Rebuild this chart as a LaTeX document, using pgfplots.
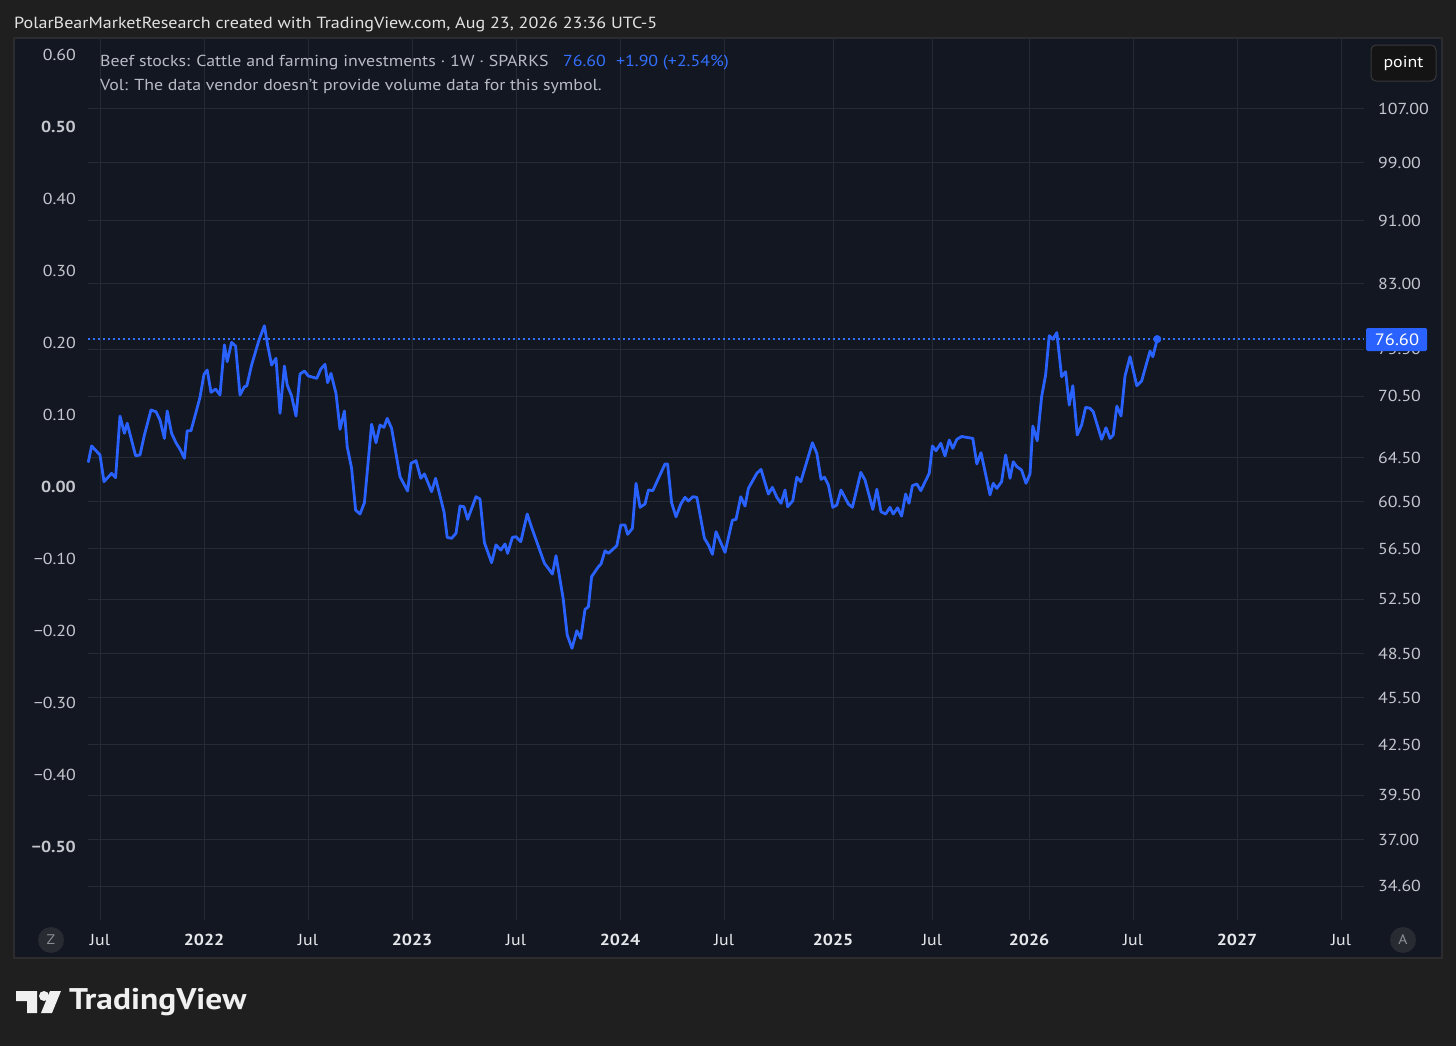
\documentclass[border=0pt]{standalone}
\usepackage{fontspec}
\setmainfont{PT Sans}[FakeStretch=1.12]
\usepackage{pgfplots}
\usepackage{pgfplotstable}
\pgfplotsset{compat=1.18}
\definecolor{outerbg}{HTML}{1F1F1F}
\definecolor{panelbg}{HTML}{131722}
\definecolor{panelborder}{HTML}{2C2C2E}
\definecolor{gridcol}{HTML}{262A35}
\definecolor{tvblue}{HTML}{2962FF}
\definecolor{legblue}{HTML}{3370FF}
\definecolor{tickcol}{HTML}{C4C6CC}
\definecolor{boldcol}{HTML}{E6E7EA}
\definecolor{legcol}{HTML}{B8BBC2}
\definecolor{titlecol}{HTML}{E2E2E2}
\definecolor{circfill}{HTML}{282B32}
\definecolor{circtext}{HTML}{8C8F96}
\newcommand\tickfont{\fontsize{16}{19}\selectfont}
\newcommand\legfont{\fontsize{16}{19}\selectfont}
\newcommand\titlefont{\fontsize{16.2}{19}\selectfont}

% week index (bar number), close price
\pgfplotstableread{
w p
0.1 64.10
0.9 65.58
3.0 64.73
4.0 62.27
5.9 63.03
6.9 62.63
8.0 68.50
9.1 66.80
9.8 67.78
11.9 64.66
13.0 64.73
14.1 66.64
15.75 69.10
17.0 68.93
18.0 68.10
19.1 66.31
19.8 69.00
20.9 66.80
22.0 65.89
23.0 65.27
24.1 64.42
24.8 67.05
25.75 67.05
28.0 70.39
29.0 72.78
29.8 73.23
30.75 70.90
31.9 71.24
33.0 70.63
34.1 75.95
34.8 74.13
35.9 76.24
36.9 75.83
38.0 70.63
39.1 71.48
39.7 71.56
40.9 73.77
42.75 76.50
44.1 78.11
44.9 75.95
45.9 73.77
47.0 74.49
48.0 68.77
49.1 73.66
49.8 71.66
50.9 70.52
52.0 68.50
53.0 72.81
54.1 73.13
55.1 72.60
57.2 72.36
58.2 73.34
59.25 73.85
59.9 71.90
60.75 72.88
62.0 70.80
63.0 67.19
64.1 69.00
64.8 65.51
65.9 63.49
66.9 59.75
68.0 59.41
69.1 60.39
70.9 67.68
72.0 65.89
73.0 67.61
74.0 67.38
74.8 68.27
75.9 67.29
78.0 62.72
79.9 61.43
80.75 63.95
82.0 64.19
83.2 62.57
84.1 62.97
85.9 61.37
86.9 62.57
89.0 59.60
89.8 57.43
90.9 57.35
92.0 57.77
93.0 60.10
94.0 60.04
94.9 58.95
97.0 60.92
98.0 60.72
99.1 56.99
100.9 55.35
102.0 56.80
103.2 56.38
104.25 56.88
104.9 56.11
106.1 57.43
107.0 57.48
108.2 57.07
109.8 59.41
110.9 58.27
114.1 55.31
116.1 54.45
117.0 55.92
118.8 52.51
119.8 49.83
121.0 48.88
122.2 50.14
123.2 49.59
124.25 51.72
125.1 51.92
125.9 54.24
127.6 55.03
128.25 55.25
129.25 56.32
130.1 56.11
132.2 56.74
133.2 58.47
134.25 58.47
134.9 57.68
136.1 58.18
137.0 62.12
138.0 59.99
139.25 60.28
140.1 61.52
141.2 61.46
144.25 63.89
144.9 63.89
145.9 60.39
147.0 59.17
148.2 60.28
149.25 60.87
150.1 60.54
151.2 60.92
152.2 60.87
154.1 57.35
155.1 56.80
156.1 56.03
157.0 57.90
159.25 56.19
161.1 58.89
162.0 58.95
163.2 60.92
164.25 60.10
165.1 61.67
167.2 63.03
168.25 63.39
170.1 61.16
171.1 61.76
172.2 60.87
173.25 60.34
174.25 61.52
174.9 60.04
176.2 60.57
177.2 62.67
178.2 62.27
181.1 65.89
182.2 64.89
183.25 62.48
184.1 62.67
185.1 61.97
186.2 59.99
187.2 60.19
188.25 61.52
190.1 60.28
191.1 59.99
193.2 63.12
194.25 62.42
196.2 59.81
197.2 61.58
198.25 59.60
199.4 59.41
200.5 59.99
201.3 59.41
202.4 59.95
203.4 59.23
204.4 61.16
205.25 60.34
206.1 61.91
207.2 62.06
208.2 61.46
210.3 63.03
211.1 65.58
212.0 65.13
213.2 65.84
214.25 64.64
215.3 66.15
216.2 65.36
217.2 66.22
218.4 66.49
221.2 66.31
222.2 63.89
223.25 64.95
225.5 61.08
226.3 62.12
227.2 61.67
228.4 62.27
229.4 64.73
230.5 62.57
231.3 64.10
232.2 63.64
233.4 63.33
234.5 62.12
235.5 62.97
236.2 67.51
237.3 66.08
238.4 70.45
239.4 72.71
240.3 76.98
241.2 76.58
242.2 77.32
243.4 72.53
244.4 73.05
245.3 69.60
246.2 71.59
247.3 66.64
248.4 67.61
249.4 69.37
250.5 69.28
251.3 68.93
253.4 66.22
254.5 67.34
255.5 66.31
256.3 66.64
257.2 69.50
258.25 68.50
259.25 72.60
260.5 74.67
262.2 71.59
263.4 72.08
265.5 75.28
266.2 74.67
267.3 76.60
}\beefdata

\begin{document}
\begin{tikzpicture}
\useasboundingbox (0,0) rectangle (1456bp,-1046bp);
\begin{scope}[x=1bp,y=-1bp]
  \fill[outerbg] (0,0) rectangle (1456,1046);
  \fill[panelbg] (14,38) rectangle (1442,958);
  \draw[panelborder, line width=1.2bp] (14,38) rectangle (1442,958);
  \node[anchor=base west, inner sep=0pt, text=titlecol, font=\titlefont] at (14,28.3)
    {PolarBearMarketResearch created with TradingView.com, Aug 23, 2026 23:36 UTC-5};
\end{scope}

% main price axis (log), labels on the right
\begin{axis}[
  at={(88bp,-920bp)}, anchor=south west,
  scale only axis, width=1276bp, height=882bp,
  xmin=0, xmax=319,
  ymode=log, ymin=32.94, ymax=118.63,
  axis line style={draw=none}, tick style={draw=none}, major tick length=0pt,
  xtick={3,29,55,81,107,133,159,186.25,211,235.25,261.25,287.25,313.25},
  xticklabels={Jul,\textbf{2022},Jul,\textbf{2023},Jul,\textbf{2024},Jul,\textbf{2025},Jul,\textbf{2026},Jul,\textbf{2027},Jul},
  ytick={34.6,37,39.5,42.5,45.5,48.5,52.5,56.5,60.5,64.5,70.5,75.5,83,91,99,107},
  yticklabels={34.60,37.00,39.50,42.50,45.50,48.50,52.50,56.50,60.50,64.50,70.50,75.50,83.00,91.00,99.00,107.00},
  minor ytick={}, minor xtick={},
  yticklabel pos=right,
  xmajorgrids, ymajorgrids,
  major grid style={draw=gridcol, line width=1bp},
  x tick label style={font=\tickfont, text=boldcol, anchor=center, yshift=-20bp, inner sep=0pt},
  y tick label style={font=\tickfont, text=tickcol, anchor=west, xshift=14bp, inner sep=0pt},
  clip=false,
]
\addplot[legblue, line width=1.5bp, dash pattern=on 1.5bp off 3.5bp] coordinates {(0,76.6) (319,76.6)};
\addplot[tvblue, line width=2.8bp, line join=round, line cap=round] table[x=w, y=p] {\beefdata};
\addplot[tvblue, only marks, mark=*, mark size=3.8bp] coordinates {(267.3,76.6)};
\end{axis}

% left scale
\begin{axis}[
  at={(88bp,-920bp)}, anchor=south west,
  scale only axis, width=1276bp, height=882bp,
  xmin=0, xmax=319, ymin=-0.6014, ymax=0.6236,
  hide x axis,
  axis line style={draw=none}, tick style={draw=none}, major tick length=0pt,
  ytick={-0.5,-0.4,-0.3,-0.2,-0.1,0,0.1,0.2,0.3,0.4,0.5,0.6},
  yticklabels={\textbf{−0.50},−0.40,−0.30,−0.20,−0.10,\textbf{0.00},0.10,0.20,0.30,0.40,\textbf{0.50},0.60},
  y tick label style={font=\tickfont, text=tickcol, anchor=east, xshift=-12bp, inner sep=0pt},
]
\end{axis}

\begin{scope}[x=1bp,y=-1bp]
  % legend text
  \node[anchor=base west, inner sep=0pt, text=legcol, font=\legfont] at (100,66.7)
    {Beef stocks: Cattle and farming investments · 1W · SPARKS};
  \node[anchor=base west, inner sep=0pt, text=legblue, font=\legfont] at (563,66.7) {76.60};
  \node[anchor=base west, inner sep=0pt, text=legblue, font=\legfont] at (616,66.7) {+1.90 (+2.54\%)};
  \node[anchor=base west, inner sep=0pt, text=legcol, font=\legfont] at (100,90.7)
    {Vol: The data vendor doesn't provide volume data for this symbol.};
  % point box
  \draw[fill=black!92, draw=white!22!black, rounded corners=5bp, line width=1bp] (1371,45) rectangle (1436,81);
  \node[text=white, font=\legfont, inner sep=0pt] at (1403.5,63) {point};
  % last price label
  \fill[tvblue, rounded corners=1.5bp] (1366,328) rectangle (1427,351);
  \node[text=white, font=\fontsize{16.5}{19}\selectfont, inner sep=0pt] at (1397,339.5) {76.60};
  % Z and A buttons
  \fill[circfill] (51,940) circle (13);
  \node[text=circtext, font=\fontsize{14}{16}\selectfont, inner sep=0pt] at (51,940) {Z};
  \fill[circfill] (1403,940) circle (13);
  \node[text=circtext, font=\fontsize{14}{16}\selectfont, inner sep=0pt] at (1403,940) {A};
  % TradingView logo
  \fill[white!94!black] (16,991) -- (37,991) -- (37,1013) -- (27,1013) -- (27,1001) -- (16,1001) -- cycle;
  \fill[white!94!black] (44,996) circle (5);
  \fill[white!94!black] (50,991) -- (61,991) -- (52,1013) -- (41,1013) -- cycle;
  \node[anchor=west, inner sep=0pt, text=white!94!black, font=\fontsize{30}{34}\selectfont\bfseries] at (69,1002) {TradingView};
\end{scope}
\end{tikzpicture}
\end{document}
